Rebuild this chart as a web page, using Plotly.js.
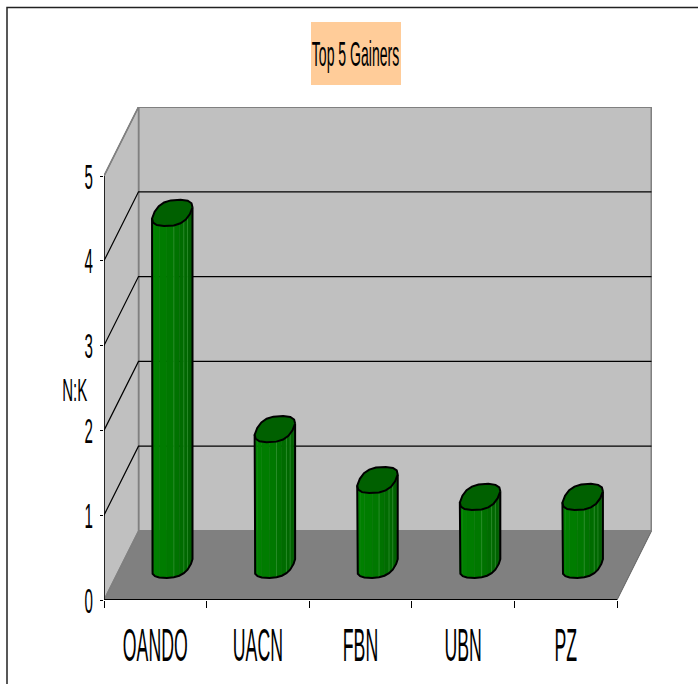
<!DOCTYPE html>
<html><head><meta charset="utf-8">
<script src="https://cdn.plot.ly/plotly-3.0.1.min.js"></script>
<style>html,body{margin:0;padding:0;background:#fff}#c{width:698px;height:684px}</style>
</head><body><div id="c"></div>
<script>
// Data
var categories = ['OANDO','UACN','FBN','UBN','PZ'];
var values = [4.15,1.6,1.0,0.8,0.8];
var yTicks = [0,1,2,3,4,5];
var titleText = 'Top 5 Gainers';
var yTitle = 'N:K';

// Chart frame, in pixels of the page
var W=698,H=684,L=104,R=652,T=107,B=600;
var catPx=102.6, unitPx=84.8;
var depthX=34.5/catPx, depthY=69/unitPx;
var n=categories.length, yMax=yTicks[yTicks.length-1];
function xP(i,d){return i+depthX*d;}
function yP(v,d){return v+depthY*d;}
function line(xs,ys,color,width){return {type:'scatter',mode:'lines',x:xs,y:ys,line:{color:color,width:width},hoverinfo:'skip',showlegend:false};}
function poly(xs,ys,fill,color,width){return {type:'scatter',mode:'lines',x:xs,y:ys,fill:'toself',fillcolor:fill,line:{color:color,width:width},hoverinfo:'skip',showlegend:false};}
var data=[];
// floor and walls
data.push(poly([xP(0,0),xP(n,0),xP(n,1),xP(0,1),xP(0,0)],[yP(0,0),yP(0,0),yP(0,1),yP(0,1),yP(0,0)],'#808080','#606060',1));
data.push(poly([xP(0,1),xP(n,1),xP(n,1),xP(0,1),xP(0,1)],[yP(0,1),yP(0,1),yP(yMax,1),yP(yMax,1),yP(0,1)],'#c0c0c0','#808080',2));
data.push(poly([xP(0,0),xP(0,1),xP(0,1),xP(0,0),xP(0,0)],[yP(0,0),yP(0,1),yP(yMax,1),yP(yMax,0),yP(0,0)],'#c0c0c0','#808080',1.5));
// gridlines
yTicks.slice(1,-1).forEach(function(v){
  data.push(line([xP(0,0),xP(0,1),xP(n,1)],[yP(v,0),yP(v,1),yP(v,1)],'#000',1.2));
});
data.push(line([xP(0,0),xP(0,1)],[yP(yMax,0),yP(yMax,1)],'#808080',1.5));
data.push(line([xP(0,0),xP(0,1)],[yP(0,0),yP(0,1)],'#808080',1));
// axis lines
data.push(line([0,0],[0,yMax],'#000',1.5));
data.push(line([0,n],[0,0],'#000',2));
// cylinders
var rx=0.178, rd=0.19, dMid=0.51, facets=10, capPts=16, round=0.78, nudge=-0.006;
var skew=rd*depthX*catPx;
var t0=Math.atan2(skew,rx*catPx);
var facetColors=['#007a00','#008000','#008000','#007c00','#007800','#007200','#006c00','#006800','#006200','#005a00'];
var seams=[1,5,7,8];
function sp(a){return (a<0?-1:1)*Math.pow(Math.abs(a),round);}
function cx(i,t){return xP(i+0.5+nudge+rx*sp(Math.cos(t)),dMid+rd*sp(Math.sin(t)));}
function cy(v,t){return yP(v,dMid+rd*sp(Math.sin(t)));}
values.forEach(function(v,i){
  var k,t,t2;
  for(k=0;k<facets;k++){
    t=t0+Math.PI+Math.PI*k/facets; t2=t0+Math.PI+Math.PI*(k+1)/facets;
    data.push(poly([cx(i,t),cx(i,t2),cx(i,t2),cx(i,t),cx(i,t)],[cy(0,t),cy(0,t2),cy(v,t2),cy(v,t),cy(0,t)],facetColors[k],facetColors[k],0.5));
  }
  seams.forEach(function(s){
    t=t0+Math.PI+Math.PI*s/facets;
    data.push(line([cx(i,t),cx(i,t)],[cy(0,t),cy(v,t)],'#3c9c3c',0.6));
  });
  var sx=[cx(i,t0+Math.PI)],sy=[cy(v,t0+Math.PI)];
  for(k=0;k<=facets;k++){t=t0+Math.PI+Math.PI*k/facets;sx.push(cx(i,t));sy.push(cy(0,t));}
  sx.push(cx(i,t0+2*Math.PI));sy.push(cy(v,t0+2*Math.PI));
  data.push(line(sx,sy,'#000',2));
  var ex=[],ey=[];
  for(k=0;k<=capPts;k++){t=t0+2*Math.PI*k/capPts;ex.push(cx(i,t));ey.push(cy(v,t));}
  data.push(poly(ex,ey,'#006000','#000',2));
});
var pw=R-L,ph=B-T;
function pX(p){return (p-L)/pw;}
function pY(p){return (B-p)/ph;}
var catCenters=categories.map(function(c,i){return i+0.5;});
var catEdges=[];for(var e=0;e<=n;e++)catEdges.push(e);
var fontFam='"Liberation Sans", Arial, sans-serif';
var layout={
  width:W,height:H,autosize:false,paper_bgcolor:'#fff',plot_bgcolor:'rgba(0,0,0,0)',showlegend:false,
  margin:{l:L,r:W-R,t:T,b:H-B,pad:0},
  title:{text:titleText,x:355.5/W,xanchor:'center',y:1-53/H,yanchor:'middle',font:{family:fontFam,size:36,color:'#000'}},
  xaxis:{range:[0,pw/catPx],tickmode:'array',tickvals:catCenters,ticktext:categories,tickangle:0,ticks:'',ticklen:0,ticklabelstandoff:14,
    tickfont:{family:fontFam,size:46,color:'#000'},showgrid:false,zeroline:false,showline:false,fixedrange:true,
    minor:{tickmode:'array',tickvals:catEdges,ticks:'outside',ticklen:7,tickwidth:1,tickcolor:'#000',showgrid:false}},
  yaxis:{range:[0,ph/unitPx],tickmode:'array',tickvals:yTicks,ticks:'outside',ticklen:3,tickwidth:1,tickcolor:'#000',
    tickfont:{family:fontFam,size:36,color:'#000'},showgrid:false,zeroline:false,showline:false,fixedrange:true},
  annotations:[{text:yTitle,xref:'paper',yref:'paper',x:pX(74),y:pY(390),xanchor:'center',yanchor:'middle',showarrow:false,font:{family:fontFam,size:32,color:'#000'}}],
  shapes:[
    {type:'rect',xref:'paper',yref:'paper',x0:pX(311),x1:pX(401),y0:pY(22),y1:pY(85),fillcolor:'#ffcc99',line:{width:0},layer:'below'},
    {type:'path',xref:'paper',yref:'paper',path:'M '+pX(7)+' '+pY(H+2)+' L '+pX(7)+' '+pY(7.5)+' L '+pX(W+2)+' '+pY(7.5),line:{color:'#222',width:1.5},layer:'below'}
  ]
};
function squeeze(sel,sx,gd,right){
  gd.querySelectorAll(sel).forEach(function(t){
    var b=t.getBBox(),c=right?b.x+b.width:b.x+b.width/2,old=t.getAttribute('transform')||'';
    t.setAttribute('transform',old+' translate('+c+',0) scale('+sx+',1) translate('+(-c)+',0)');
  });
}
Plotly.newPlot('c',data,layout,{displayModeBar:false,staticPlot:true}).then(function(gd){
  squeeze('.xtick text',0.385,gd);
  squeeze('.ytick text',0.42,gd,true);
  squeeze('.gtitle',0.39,gd);
  squeeze('.annotation-text',0.47,gd);
});
</script></body></html>
